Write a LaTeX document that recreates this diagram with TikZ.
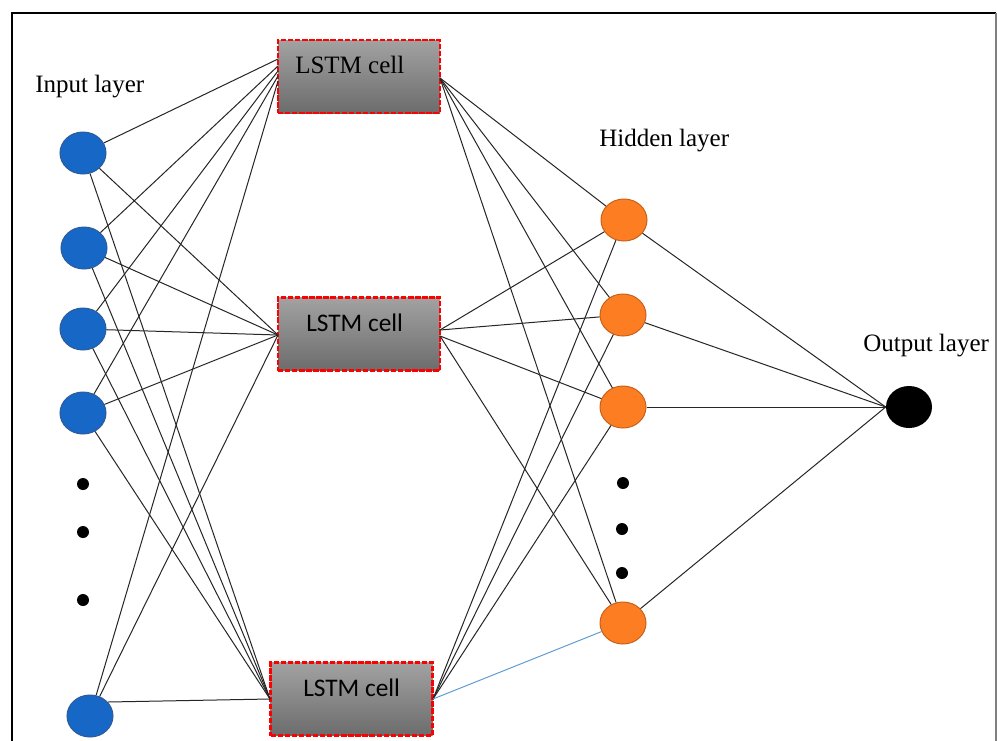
\documentclass[tikz,border=0pt]{standalone}
\usepackage{fontspec}
\setmainfont{Liberation Serif}
\newfontfamily\calib{Carlito}
\newfontfamily\timesf{Liberation Serif}
\usetikzlibrary{shapes.geometric}
\definecolor{inblue}{HTML}{1667C6}
\definecolor{inblueline}{HTML}{2E5C9A}
\definecolor{hidorange}{HTML}{FD7E22}
\definecolor{hidline}{HTML}{C8621A}
\definecolor{linkblue}{HTML}{5B9BD5}
\definecolor{boxtop}{HTML}{A2A2A2}
\definecolor{boxbot}{HTML}{6C6C6C}
\tikzset{
  conn/.style={line width=0.75pt, black!85},
  bluelink/.style={line width=0.75pt, linkblue},
  innode/.style={ellipse, draw=inblueline, fill=inblue, line width=0.75pt,
    minimum width=34.5pt, minimum height=31.5pt, inner sep=0pt},
  hidnode/.style={ellipse, draw=hidline, fill=hidorange, line width=0.75pt,
    minimum width=34.5pt, minimum height=31.5pt, inner sep=0pt},
  outnode/.style={ellipse, fill=black, minimum width=34.5pt, minimum height=31.5pt, inner sep=0pt},
  lstm/.style={rectangle, draw=red, line width=1.7pt, dash pattern=on 4pt off 1.3pt,
    top color=boxtop, bottom color=boxbot, minimum width=121.5pt, minimum height=54.75pt, inner sep=0pt},
  dotnode/.style={circle, fill=black, minimum size=9pt, inner sep=0pt},
  lbl/.style={anchor=base west, inner sep=0pt, font=\timesf\fontsize{18.75}{22}\selectfont},
  sanslbl/.style={anchor=base west, inner sep=0pt, font=\calib\fontsize{19}{22}\selectfont},
}
\begin{document}
\begin{tikzpicture}[x=0.75pt,y=-0.75pt]
\useasboundingbox (0,0) rectangle (997,740);
\fill[white] (0,0) rectangle (997,740);
% frame
\draw[line width=1.5pt, black] (12,760) -- (12,13) -- (996,13);
\draw[line width=0.9pt, black!50] (996,13) -- (996,760);

% LSTM boxes
\node[lstm] (T) at (359,76.5) {};
\node[lstm] (M) at (359,334) {};
\node[lstm] (B) at (351.5,699) {};

% input nodes
\node[innode] (i1) at (83,153) {};
\node[innode] (i2) at (84,248) {};
\node[innode] (i3) at (83,329) {};
\node[innode] (i4) at (83,413) {};
\node[innode] (i5) at (90,716) {};
\node[dotnode] (d1) at (83,484) {};
\node[dotnode] (d2) at (83,532) {};
\node[dotnode] (d3) at (83,600) {};

% hidden nodes
\node[hidnode] (h1) at (624,220) {};
\node[hidnode] (h2) at (623,315) {};
\node[hidnode] (h3) at (623,407) {};
\node[hidnode] (h4) at (623,623) {};
\node[dotnode] (e1) at (623,483) {};
\node[dotnode] (e2) at (622,529) {};
\node[dotnode] (e3) at (622,573) {};

% output node
\node[outnode] (o) at (909,407) {};

% connection points on boxes
\coordinate (tl1) at (278,59);
\coordinate (tl2) at (278,66);
\coordinate (tl3) at (278,71);
\coordinate (tl4) at (278,76);
\coordinate (tl5) at (278,81);
\coordinate (ml) at (278,335);
\coordinate (bl) at (270,699);
\coordinate (tr) at (440,78);
\coordinate (mr1) at (440,330);
\coordinate (mr2) at (440,336);
\coordinate (br) at (433,699);
\coordinate (i5out) at (108,702);

% input -> LSTM
\draw[conn] (i1) -- (tl1);
\draw[conn] (i2) -- (tl2);
\draw[conn] (i3) -- (tl3);
\draw[conn] (i4) -- (tl4);
\draw[conn] (i5) -- (tl5);
\foreach \n in {i1,i2,i3,i4,i5}{
  \draw[conn] (\n) -- (ml);
}
\foreach \n in {i1,i2,i3,i4}{
  \draw[conn] (\n) -- (bl);
}
\draw[conn] (i5out) -- (bl);

% LSTM -> hidden
\foreach \h in {h1,h2,h3,h4}{ \draw[conn] (tr) -- (\h); }
\draw[conn] (mr1) -- (h1);
\draw[conn] (mr1) -- (h2);
\draw[conn] (mr2) -- (h3);
\draw[conn] (mr2) -- (h4);
\draw[conn] (br) -- (h1);
\draw[conn] (br) -- (h2);
\draw[conn] (br) -- (h3);
\draw[bluelink] (br) -- (h4);

% hidden -> output
\foreach \h in {h1,h2,h3,h4}{ \draw[conn] (\h) -- (o.west); }

% labels
\node[lbl] (linput) at (35,92) {Input layer};
\node[lbl] (lhidden) at (599,146) {Hidden layer};
\node[lbl] (loutput) at (863,351) {Output layer};
\node[lbl] (ltop) at (295,73) {LSTM cell};
\node[sanslbl] (lmid) at (306,331) {LSTM cell};
\node[sanslbl] (lbot) at (303,696) {LSTM cell};
\end{tikzpicture}
\end{document}
